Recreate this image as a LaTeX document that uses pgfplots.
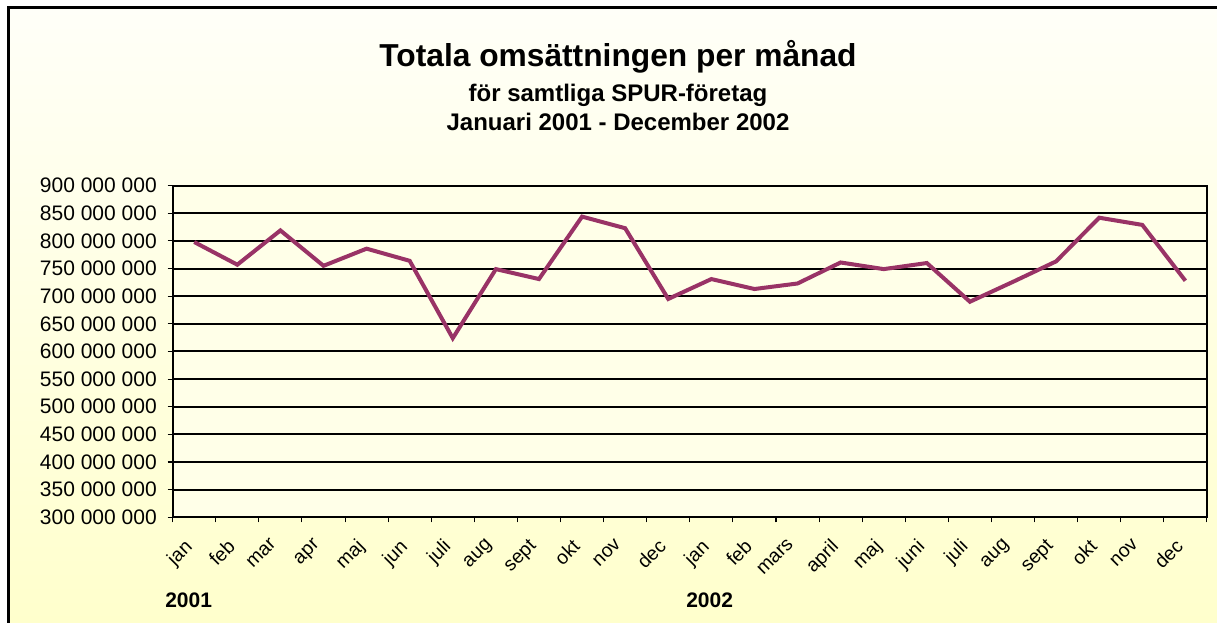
\documentclass[border=0pt]{standalone}
\usepackage{pgfplots}
\pgfplotsset{compat=1.18}
\usepackage{fontspec}
\setmainfont{Liberation Sans}
\definecolor{plum}{RGB}{153,51,102}
\definecolor{bgtop}{RGB}{255,255,248}
\definecolor{bgbot}{RGB}{255,255,204}
\definecolor{plotbg}{RGB}{255,255,232}

\pgfplotstableread{
x y
0.5 798000000
1.5 757000000
2.5 819000000
3.5 755000000
4.5 786000000
5.5 764000000
6.5 624000000
7.5 749000000
8.5 731000000
9.5 844000000
10.5 823000000
11.5 695000000
12.5 731000000
13.5 713000000
14.5 723000000
15.5 761000000
16.5 749000000
17.5 760000000
18.5 690000000
19.5 726000000
20.5 763000000
21.5 842000000
22.5 829000000
23.5 728000000
}\datatable

\begin{document}
\begin{tikzpicture}
\useasboundingbox (0,0) rectangle (912.75pt,467.25pt);
\shade[top color=bgtop, bottom color=bgbot] (6pt,0) rectangle (912.75pt,461.6pt);
\draw[line width=2.25pt] (6pt,-3pt) -- (6pt,461.6pt) -- (916pt,461.6pt);
\begin{axis}[
  at={(129.5pt,79.3pt)}, anchor=south west,
  scale only axis, width=775.7pt, height=248.7pt,
  xmin=0, xmax=24, ymin=300000000, ymax=900000000,
  xtick={0,...,24}, x tick label as interval,
  xticklabels={jan,feb,mar,apr,maj,jun,juli,aug,sept,okt,nov,dec,jan,feb,mars,april,maj,juni,juli,aug,sept,okt,nov,dec},
  ytick={300000000,350000000,400000000,450000000,500000000,550000000,600000000,650000000,700000000,750000000,800000000,850000000,900000000},
  yticklabels={300 000 000,350 000 000,400 000 000,450 000 000,500 000 000,550 000 000,600 000 000,650 000 000,700 000 000,750 000 000,800 000 000,850 000 000,900 000 000},
  scaled y ticks=false,
  tick align=outside, tick pos=left,
  major tick length=3.75pt,
  ymajorgrids, grid style={black, line width=1.5pt},
  axis line style={line width=1.5pt},
  axis background/.style={fill=plotbg},
  tick style={black, line width=0.8pt},
  yticklabel style={font=\fontsize{15.75}{18}\selectfont, inner sep=0pt, xshift=-8pt},
  xticklabel style={font=\fontsize{14.5}{16}\selectfont, xshift=-8.25pt, yshift=-11.5pt, rotate=45, anchor=north east, inner sep=0pt},
]
\addplot[plum, line width=3pt] table[x=x,y=y] {\datatable};
\end{axis}
\node[anchor=base, font=\bfseries\fontsize{23.8}{28}\selectfont] at (463.5pt,417pt) {Totala omsättningen per månad};
\node[anchor=base, font=\bfseries\fontsize{18}{21}\selectfont] at (463.5pt,390.75pt) {för samtliga SPUR-företag};
\node[anchor=base, font=\bfseries\fontsize{18}{21}\selectfont] at (463.5pt,369pt) {Januari 2001 - December 2002};
\node[anchor=base west, inner sep=0pt, font=\bfseries\fontsize{15.75}{18}\selectfont] at (123.75pt,11.25pt) {2001};
\node[anchor=base west, inner sep=0pt, font=\bfseries\fontsize{15.75}{18}\selectfont] at (514.5pt,11.25pt) {2002};
\end{tikzpicture}
\end{document}
